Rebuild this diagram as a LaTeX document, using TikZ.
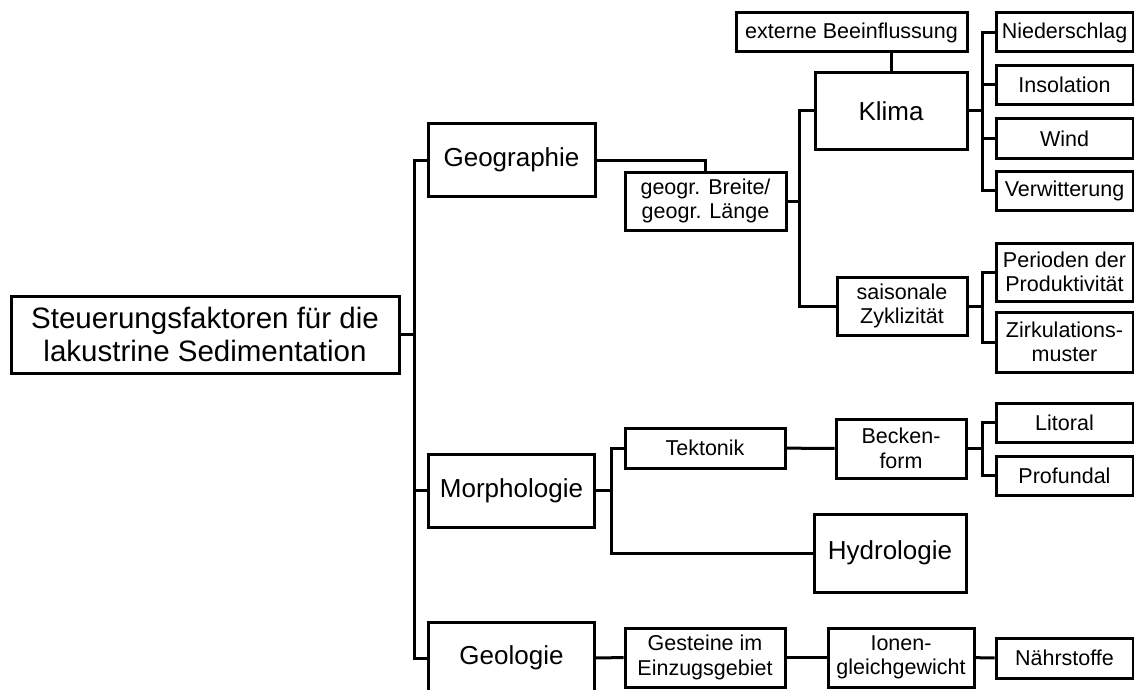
\documentclass[tikz,border=0pt]{standalone}
\usepackage{fontspec}
\setmainfont{Liberation Sans}
\usepackage{tikz}
\tikzset{
  box/.style     = {shape=rectangle, draw, line width=3pt,
                    align=center, inner sep=0pt,
                    font=\fontsize{21.5}{24.5}\selectfont},
  bigbox/.style  = {box, font=\fontsize{26}{30}\selectfont},
  rootbox/.style = {box, font=\fontsize{29.5}{33}\selectfont},
  leaf/.style    = {box, minimum width=137pt, minimum height=39pt},
  link/.style    = {draw, line width=3pt}
}

\begin{document}
\begin{tikzpicture}
  [
    x = 1pt,
    y = -1pt
  ]
  \useasboundingbox (0,0) rectangle (1134,690);
  \clip (0,0) rectangle (1134,690);

  % root and first level
  \node [rootbox, minimum width=388pt, minimum height=77pt] (root) at (205,334.5)
    {Steuerungsfaktoren f\"ur die\\lakustrine Sedimentation};
  \node [bigbox, minimum width=167pt, minimum height=72pt] (geo)   at (511.5,160) {Geographie};
  \node [bigbox, minimum width=166pt, minimum height=73pt] (morph) at (511.5,490.5) {Morphologie};
  \node [bigbox, minimum width=166pt, minimum height=72pt] (geol)  at (511.5,658) {Geologie};

  % Geographie
  \node [box, minimum width=161pt, minimum height=58pt] (breite) at (705.5,201)
    {geogr. Breite/\\geogr. L\"ange};
  \node [box, minimum width=231pt, minimum height=39pt] (ext) at (851.5,32.5) {externe Beeinflussung};
  \node [bigbox, minimum width=152pt, minimum height=76pt] (klima) at (891,111) {Klima};
  \node [box, minimum width=130pt, minimum height=58pt] (saison) at (902,306)
    {saisonale\\Zyklizit\"at};
  \node [leaf] (nieder) at (1064.5,32.5)  {Niederschlag};
  \node [leaf] (insol)  at (1064.5,85)    {Insolation};
  \node [leaf] (wind)   at (1064.5,138.5) {Wind};
  \node [leaf] (verw)   at (1064.5,190.5) {Verwitterung};
  \node [leaf, minimum height=58pt] (period) at (1064.5,272) {Perioden der\\Produktivit\"at};
  \node [leaf, minimum height=60pt] (zirk)   at (1064.5,342) {Zirkulations-\\muster};

  % Morphologie
  \node [box, minimum width=160pt, minimum height=40pt] (tekt) at (705,448) {Tektonik};
  \node [box, minimum width=130pt, minimum height=59pt] (becken) at (901,448.5) {Becken-\\form};
  \node [leaf] (litoral) at (1064.5,422.5) {Litoral};
  \node [leaf] (profund) at (1064.5,475.5) {Profundal};
  \node [bigbox, minimum width=152pt, minimum height=78pt] (hydro) at (890,553) {Hydrologie};

  % Geologie
  \node [box, minimum width=160pt, minimum height=59pt] (gest) at (705,657.5)
    {Gesteine im\\Einzugsgebiet};
  \node [box, minimum width=146pt, minimum height=59pt] (ionen) at (901,657.5)
    {Ionen-\\gleichgewicht};
  \node [leaf, minimum height=40pt] (naehr) at (1064.5,658) {N\"ahrstoffe};

  % connectors
  \path [link] (root.east) -- ++(14,0) |- (geo.west);
  \path [link] (root.east) -- ++(14,0) |- (morph.west);
  \path [link] (root.east) -- ++(14,0) |- (geol.west);

  \path [link] (geo.east) -| (breite.north);
  \path [link] (breite.east) -- ++(12,0) |- (klima.west);
  \path [link] (breite.east) -- ++(12,0) |- (saison.west);
  \path [link] (klima.north) -- (klima.north |- ext.south);
  \foreach \n in {nieder, insol, wind, verw}
    \path [link] (klima.east) -- ++(14,0) |- (\n.west);
  \foreach \n in {period, zirk}
    \path [link] (saison.east) -- ++(14,0) |- (\n.west);

  \path [link] (morph.east) -- ++(15,0) |- (tekt.west);
  \path [link] (morph.east) -- ++(15,0) |- (hydro.west);
  \path [link] (tekt) -- (becken);
  \foreach \n in {litoral, profund}
    \path [link] (becken.east) -- ++(15,0) |- (\n.west);

  \path [link] (geol) -- (gest);
  \path [link] (gest) -- (ionen);
  \path [link] (ionen) -- (naehr);
\end{tikzpicture}
\end{document}
